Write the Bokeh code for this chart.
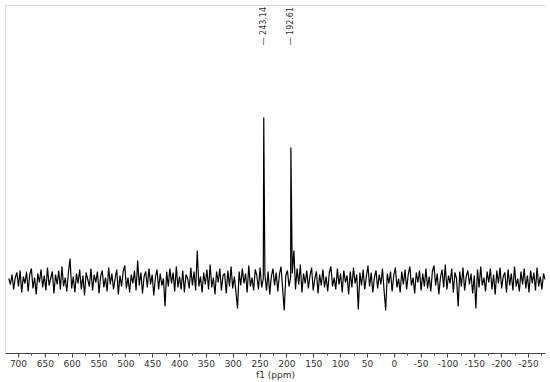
from bokeh.plotting import figure
from bokeh.models import Range1d, LinearAxis, FixedTicker, SingleIntervalTicker, PrintfTickFormatter
from bokeh.core.properties import value
from bokeh.embed import file_html
from bokeh.resources import INLINE

# Spectrum sampled every 3 ppm starting at 718 ppm (intensity, arbitrary units)
ppm_start = 718.0
ppm_step = 3.0
noise = [
    2, -4, 6, -9, 3, 8, -6, 10, -12, 4, -3, 9, -11, 6, 12, -8, 3, -14, 7, -2,
    11, -7, 5, -10, 13, -5, 2, 9, -13, 6, -4, 10, -9, 14, -6, 3, -11, 8, 22, -8,
    4, -12, 7, -3, 11, -9, 5, -15, 8, 1, -6, 12, -10, 6, -2, 9, -13, 4, 10, -7,
    3, -11, 13, -4, 7, -9, 2, 11, -14, 5, -6, 9, 15, -8, 3, -12, 6, -3, 10, -10,
    20, -5, 8, -13, 4, 9, -7, 12, -4, 6, -15, 3, 11, -9, 7, -5, 2, -26, 9, -6,
    12, -3, 8, -11, 14, -7, 4, -9, 10, -12, 6, 2, -8, 13, -5, 9, -10, 30, -6, 4,
    -12, 8, -4, 11, -9, 16, -7, 3, -14, 9, -2, 12, -10, 5, 7, -13, 10, -6, 14, -8,
    4, -11, -28, 9, -5, 12, -3, 7, -12, 15, -6, 3, -10, 11, 5, -9, 13, -7, 2, 6,
    -10, 9, -14, 4, 12, -5, 8, -11, 6, 14, -8, -30, 5, 10, -6, 3, 7, 30, -9, 12,
    -4, 16, -12, 7, -3, 10, -8, 5, 13, -10, 2, 9, -13, 6, -5, 11, -7, 4, -11, 8,
    14, -6, 3, -9, 12, -4, 7, -12, 10, -2, 5, -14, 9, -7, 13, -3, 6, -29, 8, -5,
    11, -9, 4, 15, -6, 8, -12, 3, 10, -8, 6, -4, 12, -10, -30, 7, -3, 9, -11, 5,
    13, -7, 2, -12, 9, -4, 11, -9, 6, 14, -5, 3, -13, 8, -2, 10, -10, 7, -6, 12,
    -8, 4, -11, 9, 15, -5, 7, -14, 3, 11, -7, 16, -9, 5, -3, 12, -12, 8, 2, -26,
    9, -6, 13, -10, 4, 10, -4, 7, -13, 5, -28, 11, -7, 14, -5, 3, -11, 9, -2, 12,
    -9, 6, -14, 10, -3, 13, -8, 4, 8, -12, 11, -5, 7, -10, 14, -6, 2, -11, 9, -4,
    12, -8, 5, -12, 10, -3, 8, -10, 13, -6, 4, -9, 7, 1,
]
peak_ppm = [243.14, 192.61]
peak_height = [163, 133]
peak_labels = ["243.14", "192.61"]

# merge sampled spectrum with the peak maxima
pts = [(ppm_start - ppm_step * i, v) for i, v in enumerate(noise)]
pts += list(zip(peak_ppm, peak_height))
pts.sort(key=lambda t: -t[0])
xs = [t[0] for t in pts]
ys = [t[1] for t in pts]

FONT = "DejaVu Sans"

p = figure(frame_width=540, frame_height=348, output_backend="svg", toolbar_location=None,
           x_range=Range1d(724.2, -281.7), y_range=Range1d(-73, 275),
           x_axis_location=None, y_axis_location=None,
           min_border_left=5, min_border_right=5, min_border_top=5, min_border_bottom=0)
p.grid.visible = False
p.outline_line_color = None
p.background_fill_color = "white"

p.line(xs, ys, line_color="#000000", line_width=1.2)

# peak annotations
p.text(x=peak_ppm, y=[235, 235], text=["\u2014 " + s for s in peak_labels], angle=1.5708,
       text_align="left", text_baseline="middle", text_font=value(FONT),
       text_font_size="8px", text_color="#333333")

xa = LinearAxis(ticker=SingleIntervalTicker(interval=50, num_minor_ticks=2),
                formatter=PrintfTickFormatter(format="%d"),
                axis_label="f1 (ppm)")
xa.axis_line_color = "#444444"
xa.major_tick_line_color = "#444444"
xa.minor_tick_line_color = "#444444"
xa.major_tick_out = 4
xa.major_tick_in = 0
xa.minor_tick_out = 2
xa.minor_tick_in = 0
xa.major_label_text_font = FONT
xa.major_label_text_font_size = "9px"
xa.major_label_text_color = "#333333"
xa.major_label_standoff = 2
xa.axis_label_text_font = FONT
xa.axis_label_text_font_size = "9px"
xa.axis_label_text_font_style = "normal"
xa.axis_label_text_color = "#333333"
xa.axis_label_standoff = 0
p.add_layout(xa, "below")

for loc in ("left", "above"):
    a = LinearAxis(ticker=FixedTicker(ticks=[]))
    a.axis_line_color = "#d8d8d8"
    a.major_tick_line_color = None
    a.minor_tick_line_color = None
    a.major_tick_out = 0
    a.minor_tick_out = 0
    a.major_label_standoff = 0
    a.major_label_text_font_size = "0px"
    p.add_layout(a, loc)

open("out.html", "w").write(file_html(p, INLINE))
